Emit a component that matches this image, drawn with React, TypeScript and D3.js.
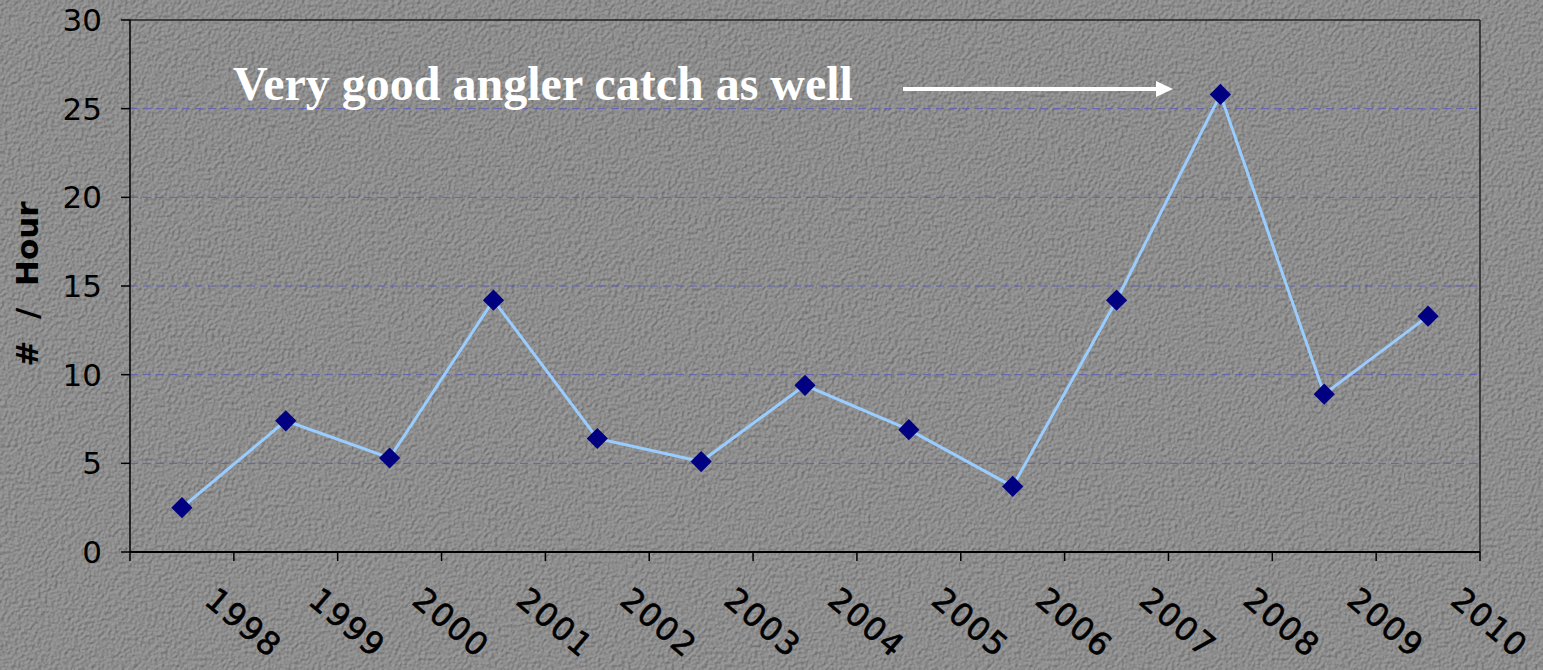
import React from "react";
import * as d3 from "d3";

const years = ["1998","1999","2000","2001","2002","2003","2004","2005","2006","2007","2008","2009","2010"];
const catchPerHour = [2.5, 7.4, 5.3, 14.2, 6.4, 5.1, 9.4, 6.9, 3.7, 14.2, 25.8, 8.9, 13.3];
const yTicks = [0, 5, 10, 15, 20, 25, 30];
const yTitle = "#  /  Hour";
const annotation = "Very good angler catch as well";

const W = 1543, H = 670;
const L = 130, R = 1480, T = 20, B = 552;

export default function App() {
  const x = d3.scaleBand<string>().domain(years).range([L, R]).padding(0);
  const y = d3.scaleLinear().domain([0, 30]).range([B, T]);
  const cx = (yr: string) => (x(yr) as number) + x.bandwidth() / 2;
  const line = d3.line<number>().x((_, i) => cx(years[i])).y((v) => y(v));
  const diamond = d3.symbol().type(d3.symbolSquare).size(225)();
  const boundaries = years.map((yr) => x(yr) as number).concat([R]);

  return (
    <svg width={W} height={H} style={{ position: "absolute", left: 0, top: 0, display: "block" }}>
      <defs>
        <filter id="tex" x="0" y="0" width="100%" height="100%" colorInterpolationFilters="sRGB">
          <feTurbulence type="fractalNoise" baseFrequency="0.3" numOctaves="2" seed="3" result="n" />
          <feDiffuseLighting in="n" surfaceScale="2" lightingColor="#ffffff" diffuseConstant="1" result="lit">
            <feDistantLight azimuth="225" elevation="50" />
          </feDiffuseLighting>
        </filter>
      </defs>
      <rect x={0} y={0} width={W} height={H} fill="#808080" />
      <rect x={0} y={0} width={W} height={H} filter="url(#tex)" opacity={0.22} />

      {/* gridlines */}
      {yTicks.filter((t) => t > 0 && t < 30).map((t) => (
        <line key={"g" + t} x1={L} x2={R} y1={y(t)} y2={y(t)} stroke="#5f5fb8" strokeWidth={1} strokeDasharray="8,5" />
      ))}

      {/* plot frame */}
      <line x1={L} x2={R} y1={T} y2={T} stroke="#222" strokeWidth={1.5} />
      <line x1={R} x2={R} y1={T} y2={B} stroke="#222" strokeWidth={1.5} />
      <line x1={L} x2={L} y1={T} y2={B + 1} stroke="#000" strokeWidth={1.5} />
      <line x1={L - 1} x2={R} y1={B} y2={B} stroke="#000" strokeWidth={2} />

      {/* y ticks & labels */}
      {yTicks.map((t) => (
        <g key={"y" + t}>
          <line x1={L - 9} x2={L} y1={y(t)} y2={y(t)} stroke="#000" strokeWidth={1.5} />
          <text x={102} y={y(t)} dy="0.36em" textAnchor="end" fontFamily="DejaVu Sans" fontSize={31} fill="#000">
            {t}
          </text>
        </g>
      ))}

      {/* x ticks */}
      {boundaries.map((bx, i) => (
        <line key={"xt" + i} x1={bx} x2={bx} y1={B} y2={B + 9} stroke="#000" strokeWidth={1.5} />
      ))}

      {/* x labels */}
      {years.map((yr) => {
        const ax = cx(yr) + 21;
        const ay = 603;
        return (
          <text key={"xl" + yr} x={ax} y={ay} transform={`rotate(40 ${ax} ${ay})`} textAnchor="start"
            fontFamily="DejaVu Sans" fontSize={32} letterSpacing={1.5} fill="#000" stroke="#000" strokeWidth={0.6}>
            {yr}
          </text>
        );
      })}

      {/* y title */}
      <text transform={`translate(38 ${284}) rotate(-90)`} textAnchor="middle" fontFamily="DejaVu Sans"
        fontWeight="bold" fontSize={31} fill="#000" style={{ whiteSpace: "pre" }}>
        {yTitle}
      </text>

      {/* series */}
      <path d={line(catchPerHour) || ""} fill="none" stroke="#99ccff" strokeWidth={3} />
      {catchPerHour.map((v, i) => (
        <path key={"m" + i} d={diamond || ""} transform={`translate(${cx(years[i])} ${y(v)}) rotate(45)`} fill="#000080" />
      ))}

      {/* annotation */}
      <text x={233} y={100} fontFamily="Liberation Serif" fontWeight="bold" fontSize={48} fill="#ffffff">
        {annotation}
      </text>
      <line x1={903} x2={1158} y1={89} y2={89} stroke="#ffffff" strokeWidth={4} />
      <path d="M1156,81 L1173,89 L1156,97 Z" fill="#ffffff" />
    </svg>
  );
}
